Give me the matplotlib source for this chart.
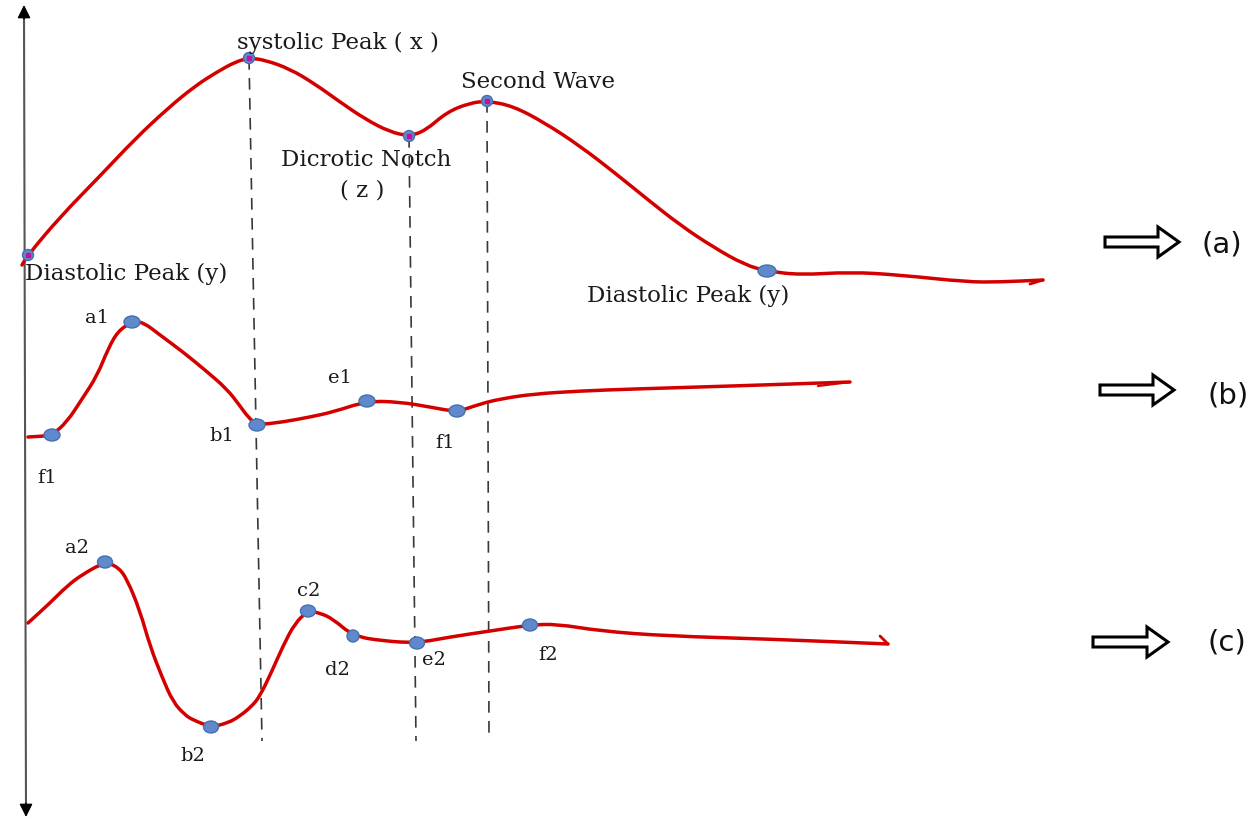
import matplotlib
matplotlib.use('Agg')
import matplotlib.pyplot as plt
from matplotlib.path import Path
from matplotlib.patches import PathPatch, Ellipse, FancyArrow

# curve (a): pressure wave, pixel positions
wave_a_x = [22, 28, 60, 100, 135, 167, 195, 217, 235, 249, 265, 290, 315, 340, 365, 390, 409, 425, 447, 470, 487,
            513, 545, 580, 615, 647, 680, 713, 745, 767, 800, 850, 900, 967, 1000, 1043]
wave_a_y = [266, 256, 218, 177, 140, 110, 87, 73, 63, 59, 61, 70, 85, 103, 120, 133, 137, 132, 113, 104, 102,
            107, 124, 147, 174, 200, 226, 248, 266, 272, 276, 273, 276, 283, 283, 281]

# curve (b)
wave_b_x = [28, 45, 52, 67, 82, 97, 108, 118, 132, 143, 160, 183, 205, 227, 240, 248, 257, 283, 310, 333,
            367, 400, 430, 457, 480, 500, 533, 580, 633, 733, 850]
wave_b_y = [438, 437, 436, 423, 400, 377, 350, 332, 323, 323, 336, 353, 371, 390, 407, 418, 426, 423, 418, 413,
            402, 403, 408, 413, 405, 400, 395, 392, 390, 387, 383]

# curve (c)
wave_c_x = [28, 50, 67, 83, 105, 118, 127, 140, 150, 162, 173, 185, 193, 211, 228, 240, 252, 260, 272, 283,
            295, 308, 320, 333, 353, 383, 417, 450, 490, 530, 557, 600, 667, 767, 888]
wave_c_y = [624, 604, 587, 575, 563, 568, 580, 612, 647, 678, 703, 716, 721, 728, 724, 717, 707, 697, 672, 647,
            624, 612, 614, 620, 637, 642, 644, 638, 632, 626, 625, 632, 637, 640, 645]

# key points
pts_a_x = [28, 249, 409, 487]
pts_a_y = [256, 59, 137, 102]
diast_a = (767, 272)
pts_b_x = [52, 132, 257, 367, 457]
pts_b_y = [436, 323, 426, 402, 412]
pts_b_lab = ['f1', 'a1', 'b1', 'e1', 'f1']
pts_c_x = [105, 211, 308, 353, 417, 530]
pts_c_y = [563, 728, 612, 637, 644, 626]
pts_c_lab = ['a2', 'b2', 'c2', 'd2', 'e2', 'f2']

# dashed guides (top x, top y, bottom x)
guide_top_x = [249, 409, 487]
guide_top_y = [59, 137, 102]
guide_bot_x = [262, 416, 489]

RED = '#d40000'
BLUE = '#6089cc'
BLUE_EDGE = '#4470b0'
SERIF = 'DejaVu Serif'


def smooth_path(xs, ys):
    # quadratic bezier through midpoints
    verts = [(xs[0], ys[0])]
    codes = [Path.MOVETO]
    verts.append(((xs[0] + xs[1]) / 2, (ys[0] + ys[1]) / 2))
    codes.append(Path.LINETO)
    for i in range(1, len(xs) - 1):
        verts.append((xs[i], ys[i]))
        verts.append(((xs[i] + xs[i + 1]) / 2, (ys[i] + ys[i + 1]) / 2))
        codes += [Path.CURVE3, Path.CURVE3]
    verts.append((xs[-1], ys[-1]))
    codes.append(Path.LINETO)
    return Path(verts, codes)


fig = plt.figure(figsize=(12.58, 8.2), dpi=100)
ax = fig.add_axes([0, 0, 1, 1])
ax.set_xlim(0, 1258)
ax.set_ylim(820, 0)
ax.axis('off')

# vertical axis: grey shaft, black heads at both ends
ax.plot([24, 26], [14, 810], color='#555555', lw=1.5)
ax.annotate('', xy=(24, 6), xytext=(24, 20),
            arrowprops=dict(arrowstyle='-|>', color='black', lw=1, mutation_scale=20, shrinkA=0, shrinkB=0))
ax.annotate('', xy=(26, 818), xytext=(26, 804),
            arrowprops=dict(arrowstyle='-|>', color='black', lw=1, mutation_scale=20, shrinkA=0, shrinkB=0))

# dashed guides
for i in range(len(guide_top_x)):
    ax.plot([guide_top_x[i], guide_bot_x[i]], [guide_top_y[i], 742], color='#383838', lw=1.2,
            dashes=(7, 5), zorder=1)

# curves
for xs, ys in [(wave_a_x, wave_a_y), (wave_b_x, wave_b_y), (wave_c_x, wave_c_y)]:
    ax.add_patch(PathPatch(smooth_path(xs, ys), fc='none', ec=RED, lw=2.5, capstyle='round',
                           joinstyle='round', zorder=2))

# little hooks at the ends of the strokes
ax.plot([1043, 1030], [281, 285], color=RED, lw=2.0, solid_capstyle='round')
ax.plot([850, 818], [383, 387], color=RED, lw=1.6, solid_capstyle='round')
ax.plot([888, 880], [645, 637], color=RED, lw=2.0, solid_capstyle='round')

# markers on (a)
for x, y in zip(pts_a_x, pts_a_y):
    ax.add_patch(Ellipse((x, y), 11, 11, fc=BLUE, ec=BLUE_EDGE, lw=1, zorder=3))
ax.plot(pts_a_x, pts_a_y, 's', color='#c0129a', ms=2.5, zorder=4)
ax.add_patch(Ellipse(diast_a, 18, 12, fc=BLUE, ec=BLUE_EDGE, lw=1, zorder=3))

# markers on (b) and (c)
for x, y in zip(pts_b_x, pts_b_y):
    ax.add_patch(Ellipse((x, y), 16, 12, fc=BLUE, ec=BLUE_EDGE, lw=1, zorder=3))
for x, y, lab in zip(pts_c_x, pts_c_y, pts_c_lab):
    w = 12 if lab == 'd2' else 15
    ax.add_patch(Ellipse((x, y), w, 12, fc=BLUE, ec=BLUE_EDGE, lw=1, zorder=3))

# big labels
big = dict(family=SERIF, fontsize=16.5, color='#1a1a1a', va='center')
ax.text(338, 43, 'systolic Peak ( x )', ha='center', **big)
ax.text(366, 160, 'Dicrotic Notch', ha='center', **big)
ax.text(362, 190, '( z )', ha='center', **big)
ax.text(538, 82, 'Second Wave', ha='center', **big)
ax.text(25, 274, 'Diastolic Peak (y)', ha='left', **big)
ax.text(587, 296, 'Diastolic Peak (y)', ha='left', **big)

# small point labels
small = dict(family=SERIF, fontsize=14, color='#1a1a1a', ha='center', va='center')
lab_b_pos = [(47, 478), (97, 318), (222, 436), (340, 378), (445, 443)]
for (lx, ly), lab in zip(lab_b_pos, pts_b_lab):
    ax.text(lx, ly, lab, **small)
lab_c_pos = [(77, 548), (193, 756), (309, 591), (337, 670), (434, 660), (548, 655)]
for (lx, ly), lab in zip(lab_c_pos, pts_c_lab):
    ax.text(lx, ly, lab, **small)

# block arrows and panel tags
arrow_tail = [1105, 1100, 1093]
arrow_tip = [1179, 1174, 1168]
arrow_y = [243, 391, 643]
tags = ['(a)', '(b)', '(c)']
tag_x = [1222, 1228, 1227]
tag_y = [244, 396, 643]
for i in range(3):
    ax.add_patch(FancyArrow(arrow_tail[i], arrow_y[i], arrow_tip[i] - arrow_tail[i], 0, width=10,
                            head_width=30, head_length=21, length_includes_head=True,
                            fc='white', ec='black', lw=2.2))
    ax.text(tag_x[i], tag_y[i], tags[i], family='DejaVu Sans', fontsize=21, color='#111111',
            ha='center', va='center')

fig.savefig('out.png', dpi=100)
